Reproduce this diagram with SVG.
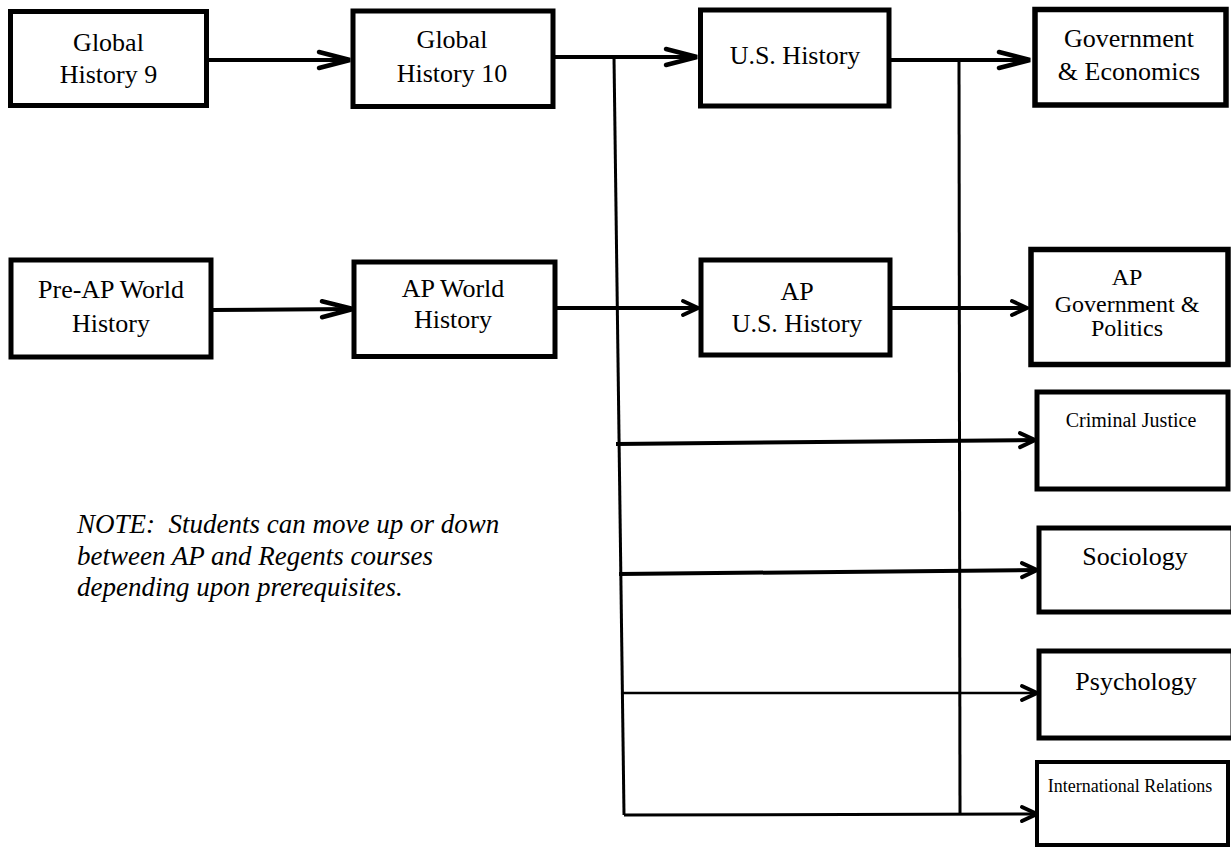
<svg xmlns="http://www.w3.org/2000/svg" width="1231" height="848" viewBox="0 0 1231 848">
<style>
.box{fill:#fff;stroke:#000;stroke-width:5}
.thick{stroke-width:5.5}
.thin{stroke-width:4}
.t{font-family:"Liberation Serif","Times New Roman",serif;font-size:26px;fill:#000;text-anchor:middle}
.s24{font-size:24px}
.s20{font-size:20px}
.s18{font-size:18px}
.note{font-family:"Liberation Serif","Times New Roman",serif;font-size:27px;font-style:italic;fill:#000}
.c{fill:none;stroke:#000;stroke-width:4;stroke-linecap:butt}
.c3{stroke-width:3}
.c25{stroke-width:2.5}
</style>
<defs>
<marker id="big" markerUnits="userSpaceOnUse" markerWidth="40" markerHeight="24" refX="0" refY="0" viewBox="-34 -12 40 24" orient="auto" overflow="visible">
<path d="M-31,-8 L0,0 L-31,8" fill="none" stroke="#000" stroke-width="4.5" stroke-linecap="round" stroke-linejoin="miter"/>
</marker>
<marker id="small" markerUnits="userSpaceOnUse" markerWidth="24" markerHeight="24" refX="0" refY="0" viewBox="-18 -12 24 24" orient="auto" overflow="visible">
<path d="M-15,-7 L0,0 L-15,7" fill="none" stroke="#000" stroke-width="4" stroke-linecap="round" stroke-linejoin="miter"/>
</marker>
</defs>
<rect width="1231" height="848" fill="#fff"/>

<g id="connectors">
<path class="c c3" d="M614,57 L624,815"/>
<path class="c c3" d="M959,60 L960,815"/>
<path class="c" d="M207,60 L350,60" marker-end="url(#big)"/>
<path class="c" d="M553,57 L697,57" marker-end="url(#big)"/>
<path class="c" d="M889,60 L1030,60" marker-end="url(#big)"/>
<path class="c" d="M211,310 L353,309" marker-end="url(#big)"/>
<path class="c" d="M555,308 L698,308" marker-end="url(#small)"/>
<path class="c" d="M890,308 L1027,308" marker-end="url(#small)"/>
<path class="c" d="M616,444 L1035,440" marker-end="url(#small)"/>
<path class="c" d="M619,574 L1037,570" marker-end="url(#small)"/>
<path class="c c25" d="M621,693 L1037,693" marker-end="url(#small)"/>
<path class="c c3" d="M624,815 L1037,814" marker-end="url(#small)"/>
</g>

<g id="gh9">
<rect class="box" x="10.5" y="11.5" width="196" height="94"/>
<text class="t" x="108.5" y="51">Global</text>
<text class="t" x="108.5" y="83">History 9</text>
</g>
<g id="gh10">
<rect class="box" x="353" y="11" width="200" height="95.5"/>
<text class="t" x="452" y="48">Global</text>
<text class="t" x="452" y="82">History 10</text>
</g>
<g id="us-history">
<rect class="box" x="700.5" y="10" width="188.5" height="96"/>
<text class="t" x="795" y="64">U.S. History</text>
</g>
<g id="gov-econ">
<rect class="box thick" x="1035" y="9.5" width="191" height="95.5"/>
<text class="t" x="1129" y="47">Government</text>
<text class="t" x="1129" y="80">&amp; Economics</text>
</g>
<g id="preap-world">
<rect class="box" x="11" y="260" width="200" height="97"/>
<text class="t" x="111" y="298">Pre-AP World</text>
<text class="t" x="111" y="332">History</text>
</g>
<g id="ap-world">
<rect class="box" x="354" y="262" width="201" height="94.5"/>
<text class="t" x="453" y="297">AP World</text>
<text class="t" x="453" y="328">History</text>
</g>
<g id="ap-us">
<rect class="box" x="701" y="260" width="189" height="95"/>
<text class="t" x="797" y="300">AP</text>
<text class="t" x="797" y="332">U.S. History</text>
</g>
<g id="ap-gov">
<rect class="box thick" x="1031" y="249.5" width="197" height="115"/>
<text class="t s24" x="1127" y="285">AP</text>
<text class="t s24" x="1127" y="312">Government &amp;</text>
<text class="t s24" x="1127" y="336">Politics</text>
</g>
<g id="criminal-justice">
<rect class="box" x="1037" y="392" width="191" height="97"/>
<text class="t s20" x="1131" y="427">Criminal Justice</text>
</g>
<g id="sociology">
<rect class="box" x="1039" y="528" width="194" height="84"/>
<text class="t" x="1135" y="565">Sociology</text>
</g>
<g id="psychology">
<rect class="box" x="1039" y="651" width="194" height="87"/>
<text class="t" x="1136" y="690">Psychology</text>
</g>
<g id="international-relations">
<rect class="box thin" x="1037" y="762" width="191" height="83"/>
<text class="t s18" x="1130" y="792">International Relations</text>
</g>
<g id="note">
<text class="note" x="77" y="533" xml:space="preserve">NOTE:  Students can move up or down</text>
<text class="note" x="77" y="565">between AP and Regents courses</text>
<text class="note" x="77" y="596">depending upon prerequisites.</text>
</g>
</svg>
